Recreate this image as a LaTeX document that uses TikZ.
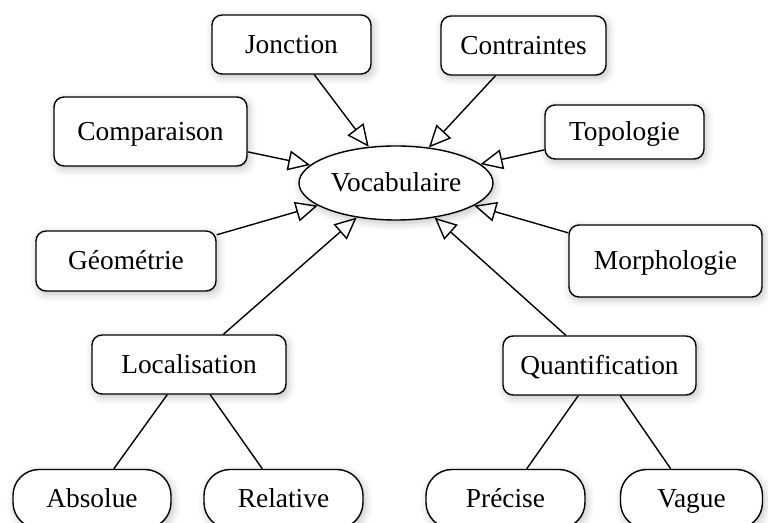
\documentclass[tikz,border=0pt]{standalone}
\usepackage{fontspec}
\setmainfont{Liberation Serif}
\usetikzlibrary{positioning,arrows.meta,shapes.geometric,shadows.blur}

\begin{document}
\begin{tikzpicture}[x=0.5pt,y=-0.5pt,
  box/.style={draw,line width=0.7pt,rounded corners=5pt,fill=white,inner sep=0pt,
    text height=9pt,text depth=0pt,
    blur shadow={shadow xshift=1pt,shadow yshift=-1.5pt,shadow blur radius=4pt,shadow opacity=25},
    font=\fontsize{13.7}{16}\selectfont},
  leaf/.style={box,rounded corners=13pt},
  arr/.style={-{Triangle[open,length=11pt,width=10pt]},line width=0.7pt},
  link/.style={line width=0.7pt}]
\useasboundingbox (0,0) rectangle (768,523);
\node (voc) [box,ellipse,rounded corners=0pt,minimum width=97pt,minimum height=37pt] at (396,183) {Vocabulaire};
\node (jonc) [box,minimum width=79.5pt,minimum height=29.5pt] at (291.5,44.5) {Jonction};
\node (contr) [box,minimum width=82.5pt,minimum height=29.5pt] at (523.5,45.5) {Contraintes};
\node (comp) [box,minimum width=96.5pt,minimum height=34.5pt] at (150.5,131.5) {Comparaison};
\node (topo) [box,minimum width=79.5pt,minimum height=27pt] at (624.5,132) {Topologie};
\node (geom) [box,minimum width=90pt,minimum height=30pt] at (126,261) {Géométrie};
\node (morph) [box,minimum width=96.5pt,minimum height=36pt] at (665.5,261) {Morphologie};
\node (loc) [box,minimum width=97pt,minimum height=29.5pt] at (189,364.5) {Localisation};
\node (quant) [box,minimum width=96.5pt,minimum height=29.5pt] at (599.5,365.5) {Quantification};
\node (abs) [leaf,minimum width=79pt,minimum height=29.5pt] at (92,499) {Absolue};
\node (rel) [leaf,minimum width=79.5pt,minimum height=29.5pt] at (283.5,499) {Relative};
\node (prec) [leaf,minimum width=79.5pt,minimum height=29.5pt] at (505.5,499) {Précise};
\node (vag) [leaf,minimum width=71pt,minimum height=29.5pt] at (691.5,499) {Vague};
\draw[arr] (jonc) -- (voc);
\draw[arr] (contr) -- (voc);
\draw[arr] (comp) -- (voc);
\draw[arr] (topo) -- (voc);
\draw[arr] (geom) -- (voc);
\draw[arr] (morph) -- (voc);
\draw[arr] (loc) -- (voc);
\draw[arr] (quant) -- (voc);
\draw[link] (loc) -- (abs);
\draw[link] (loc) -- (rel);
\draw[link] (quant) -- (prec);
\draw[link] (quant) -- (vag);
\end{tikzpicture}
\end{document}
